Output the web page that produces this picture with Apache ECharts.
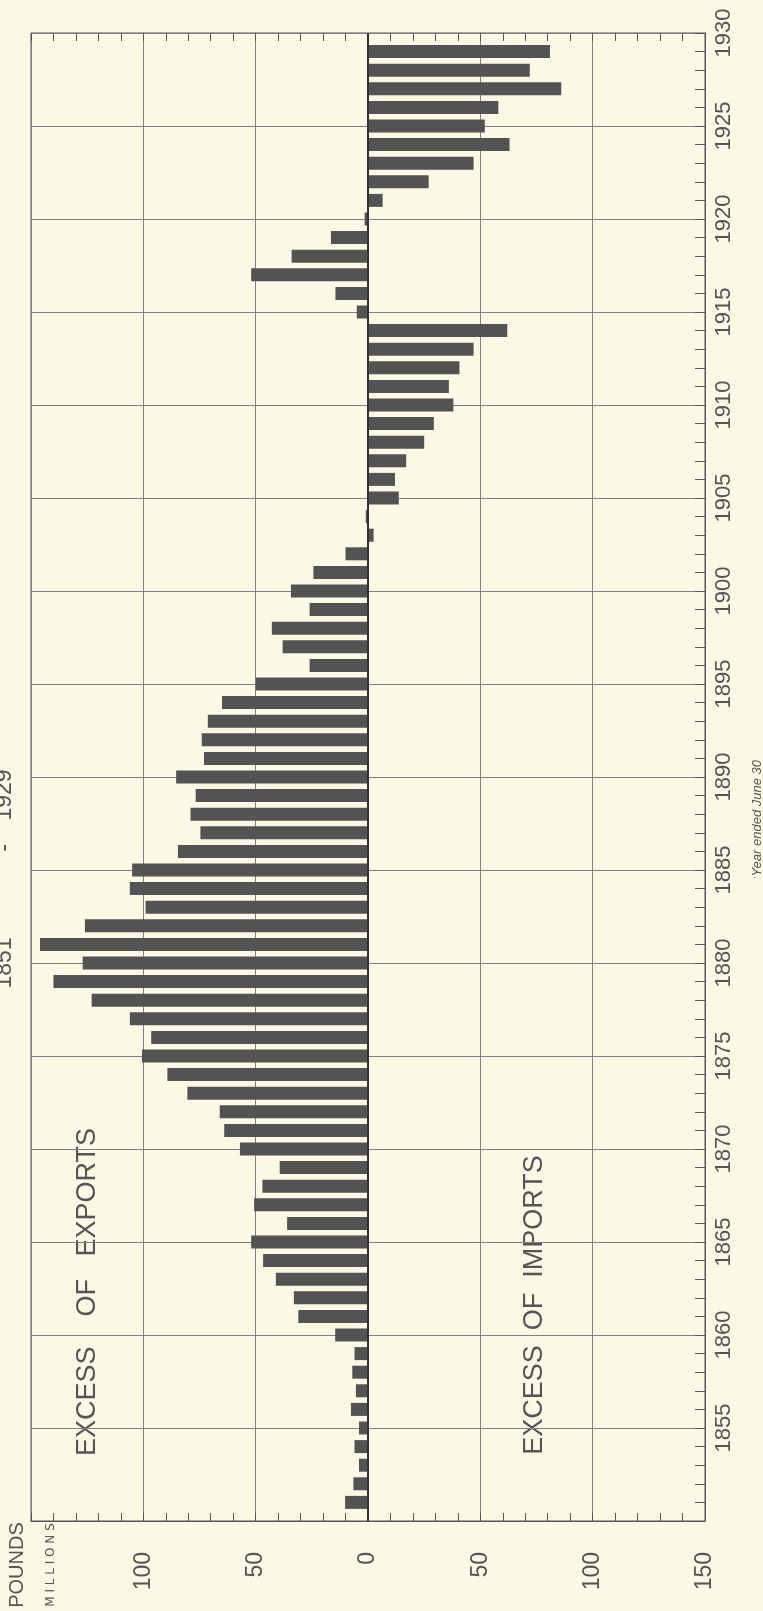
<!DOCTYPE html>
<html>
<head>
<meta charset="utf-8">
<script src="https://cdn.jsdelivr.net/npm/echarts@6/dist/echarts.min.js"></script>
<style>
  html, body { margin: 0; padding: 0; background: #fbf8e6; }
  #chart { width: 763px; height: 1611px; }
</style>
</head>
<body>
<div id="chart"></div>
<script>
// year axis, 1850 and 1930 are only the frame edges
const years = [
  '1850', '1851', '1852', '1853', '1854', '1855', '1856', '1857', '1858', '1859',
  '1860', '1861', '1862', '1863', '1864', '1865', '1866', '1867', '1868', '1869',
  '1870', '1871', '1872', '1873', '1874', '1875', '1876', '1877', '1878', '1879',
  '1880', '1881', '1882', '1883', '1884', '1885', '1886', '1887', '1888', '1889',
  '1890', '1891', '1892', '1893', '1894', '1895', '1896', '1897', '1898', '1899',
  '1900', '1901', '1902', '1903', '1904', '1905', '1906', '1907', '1908', '1909',
  '1910', '1911', '1912', '1913', '1914', '1915', '1916', '1917', '1918', '1919',
  '1920', '1921', '1922', '1923', '1924', '1925', '1926', '1927', '1928', '1929',
  '1930'
]

// millions of pounds; positive = excess of exports, negative = excess of imports
const balance = [
  null, 10.2, 6.5, 4, 6, 4, 7.6, 5.4, 7, 6,
  14.6, 31, 33, 41, 46.7, 52, 36, 50.7, 47, 39.3,
  57, 64, 66, 80.4, 89.3, 100.6, 96.5, 106, 123, 140,
  127, 146, 126, 99, 106, 105, 84.6, 74.6, 79, 76.7,
  85.4, 73, 74, 71.3, 65, 50, 26, 38, 42.8, 26,
  34.3, 24.3, 10, -2.5, 1, -13.7, -12, -17, -25, -29.3,
  -38, -36, -40.7, -47, -62, 5, 14.5, 52, 34, 16.5,
  1.5, -6.5, -27, -47, -63, -52, -58, -86, -72, -81,
  null
]

const valueMin = -150
const valueMax = 150
const valueStep = 50

const paper = '#fbf8e6'
const ink = '#555'
const gridColor = '#808080'
const labelFont = "'Liberation Sans Narrow', 'Liberation Sans', sans-serif"

const chart = echarts.init(document.getElementById('chart'))

function vtext(x, y, text, size, extra) {
  return {
    type: 'text',
    x: x,
    y: y,
    rotation: Math.PI / 2,
    silent: true,
    style: Object.assign({
      text: text,
      fontSize: size,
      fontFamily: "'Liberation Sans', sans-serif",
      fill: ink,
      align: 'center',
      verticalAlign: 'middle'
    }, extra || {})
  }
}

const option = {
  backgroundColor: paper,
  animation: false,
  grid: {
    left: 31, right: 58, top: 33, bottom: 90,
    show: true, borderColor: '#555', borderWidth: 1
  },
  xAxis: [
    {
      type: 'value',
      min: valueMin,
      max: valueMax,
      interval: valueStep,
      inverse: true,
      position: 'bottom',
      axisLine: { show: true, lineStyle: { color: '#555' } },
      axisTick: { show: true, inside: true, length: 8, lineStyle: { color: '#555' } },
      minorTick: { show: true, splitNumber: 5, length: 8, lineStyle: { color: '#555' } },
      axisLabel: {
        rotate: 90,
        margin: 31,
        fontSize: 23,
        fontFamily: labelFont,
        color: ink,
        formatter: (v) => (v === valueMax ? '' : String(Math.abs(v)))
      },
      splitLine: { show: true, lineStyle: { color: gridColor, width: 1 } }
    },
    {
      type: 'value',
      min: valueMin,
      max: valueMax,
      interval: valueStep,
      inverse: true,
      position: 'top',
      axisLine: { show: false },
      axisTick: { show: true, inside: true, length: 8, lineStyle: { color: '#555' } },
      minorTick: { show: true, splitNumber: 5, length: 8, lineStyle: { color: '#555' } },
      axisLabel: { show: false },
      splitLine: { show: false }
    }
  ],
  yAxis: {
    type: 'category',
    data: years,
    boundaryGap: false,
    position: 'right',
    axisLine: { show: true, onZero: false, lineStyle: { color: '#555' } },
    axisTick: { show: true, inside: true, length: 10, interval: 0, lineStyle: { color: '#555' } },
    axisLabel: {
      rotate: 90,
      margin: 8,
      fontSize: 22,
      fontFamily: labelFont,
      color: ink,
      interval: (i) => i % 5 === 0 && i > 0
    },
    splitLine: {
      show: true,
      interval: (i) => i % 5 === 0,
      lineStyle: { color: gridColor, width: 1 }
    }
  },
  series: [
    {
      type: 'bar',
      xAxisIndex: 0,
      data: balance,
      barWidth: 13,
      silent: true,
      itemStyle: { color: '#535353' },
      markLine: {
        silent: true,
        symbol: 'none',
        label: { show: false },
        lineStyle: { color: '#333', width: 2, type: 'solid' },
        data: [{ xAxis: 0 }]
      }
    }
  ],
  graphic: [
    vtext(88, 1292, 'EXCESS    OF   EXPORTS', 27, { backgroundColor: paper, padding: [3, 2] }),
    vtext(535, 1305, 'EXCESS  OF  IMPORTS', 27, { backgroundColor: paper, padding: [3, 2] }),
    vtext(17, 1565, 'POUNDS', 20),
    vtext(51, 1565, 'M I L L I O N S', 12, { fontFamily: "'DejaVu Sans', sans-serif" }),
    vtext(757, 820, '\u02D1Year ended June 30', 13, { fontStyle: 'italic' }),
    // figure title, clipped by the left page edge
    vtext(5, 963, '1851', 23, { fontFamily: labelFont }),
    vtext(5, 848, '-', 23, { fontFamily: labelFont }),
    vtext(5, 795, '1929', 23, { fontFamily: labelFont })
  ]
}

chart.setOption(option)
</script>
</body>
</html>
